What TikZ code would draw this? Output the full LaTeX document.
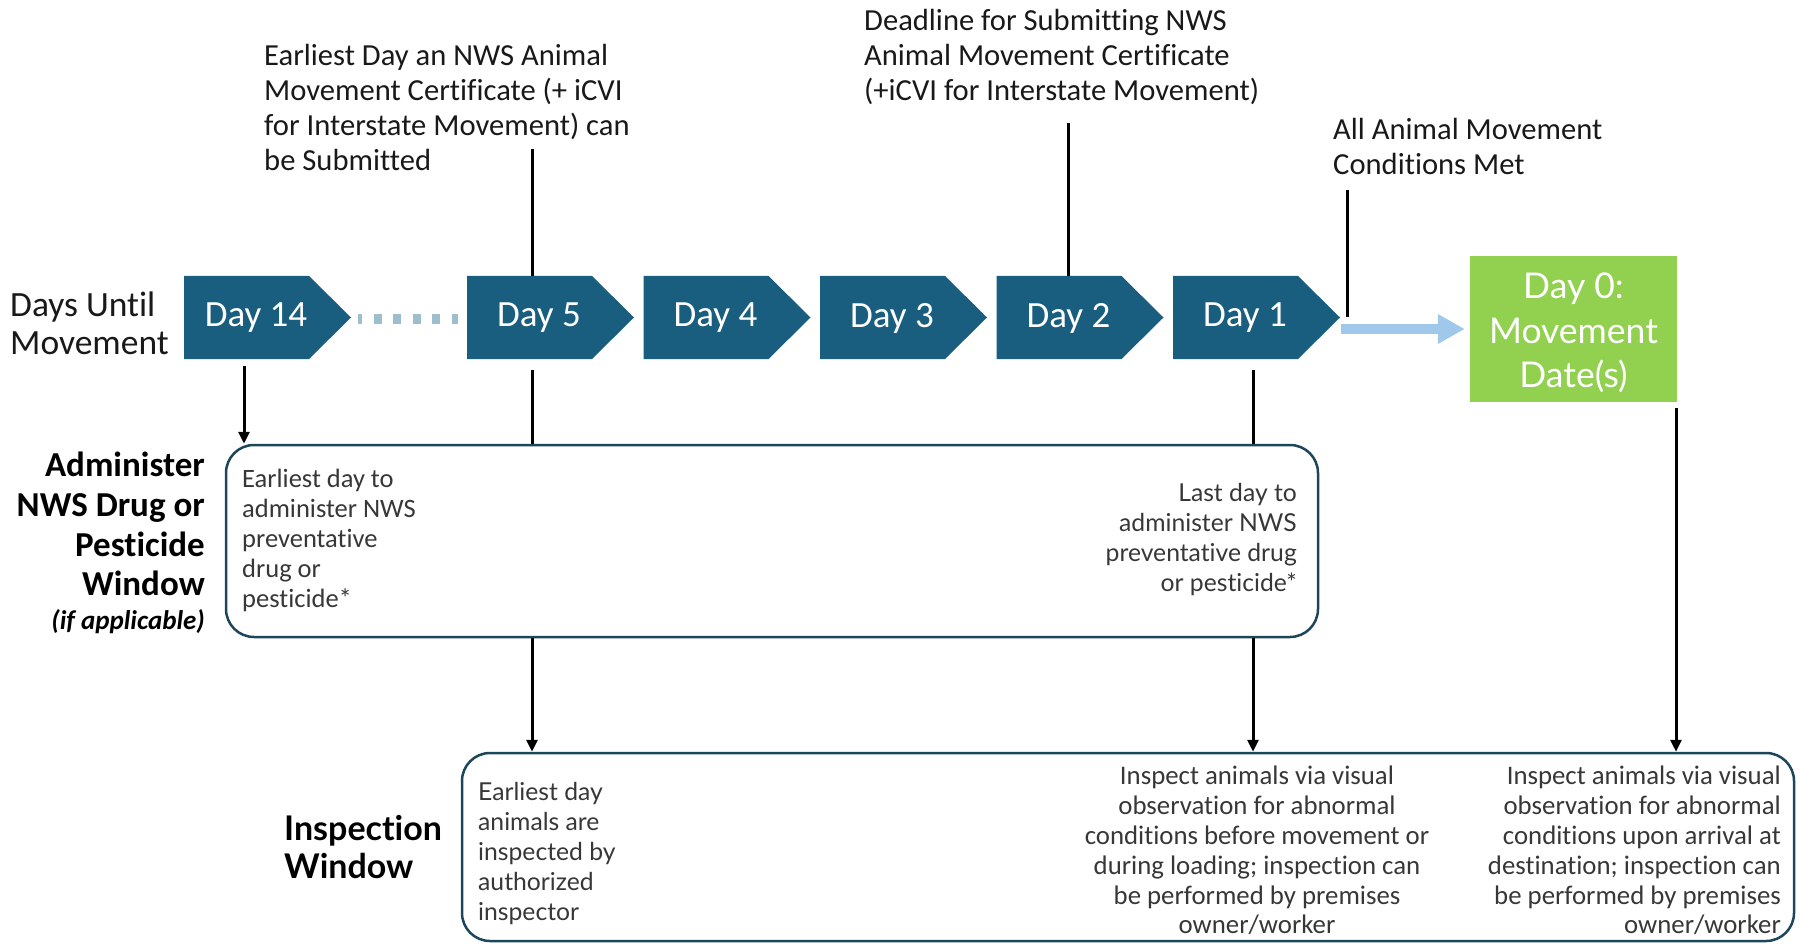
\documentclass[tikz,border=0pt]{standalone}
\usepackage{fontspec}
\setmainfont[Ligatures=NoCommon]{Lato}
\newfontfamily\nar[Ligatures=NoCommon]{Carlito}
\usetikzlibrary{arrows.meta,calc}
\definecolor{chevblue}{RGB}{25,94,126}
\definecolor{dotblue}{RGB}{157,190,205}
\definecolor{arrblue}{RGB}{160,200,235}
\definecolor{daygreen}{RGB}{146,208,80}
\definecolor{boxline}{RGB}{30,70,90}
\definecolor{txt}{RGB}{25,25,25}
\definecolor{btxt}{RGB}{55,55,55}
\tikzset{
  chev/.style={fill=chevblue},
  daytxt/.style={text=white,font=\nar\fontsize{37}{40}\selectfont,inner sep=0pt},
  conn/.style={line width=3pt,black},
  arr/.style={conn,-{Triangle[length=12pt,width=11pt]}},
  winbox/.style={draw=boxline,line width=2.5pt,rounded corners=28pt,inner sep=0pt},
  toplbl/.style={font=\nar\fontsize{30.6}{35}\selectfont,text=txt,align=left,anchor=north west,inner sep=0pt},
  boxtxtN/.style={font=\nar\fontsize{26.8}{29.8}\selectfont,text=btxt,inner sep=0pt},
  boxtxtL/.style={font=\fontsize{24.7}{30}\selectfont,text=btxt,inner sep=0pt},
}
\newcommand\daychev[3]{%
  \fill[chev] (#2,276) -- (#2+125,276) -- (#2+167,317.5) -- (#2+125,359) -- (#2,359) -- cycle;
  \node[daytxt] (#1) at (#2+72,318) {#3};}
\begin{document}
\begin{tikzpicture}[x=1pt,y=-1pt]
\useasboundingbox (0,0) rectangle (1800,944);

% top labels
\node[toplbl] (lblA) at (264,44) {Earliest Day an NWS Animal\\Movement Certificate (+ iCVI\\for Interstate Movement) can\\be Submitted};
\node[toplbl] (lblB) at (864,9) {Deadline for Submitting NWS\\Animal Movement Certificate\\(+iCVI for Interstate Movement)};
\node[toplbl] (lblC) at (1333,118) {All Animal Movement\\Conditions Met};

\node[font=\nar\fontsize{35.5}{38}\selectfont,text=txt,align=left,anchor=north west,inner sep=0pt] (dum) at (10,292) {Days Until\\Movement};

% chevrons
\daychev{d14}{184}{Day 14}
\daychev{d5}{467}{Day 5}
\daychev{d4}{643.5}{Day 4}
\daychev{d3}{820}{Day 3}
\daychev{d2}{996.5}{Day 2}
\daychev{d1}{1173}{Day 1}

\coordinate (dotS) at (358,319);
\coordinate (dotE) at (458,319);
\draw[dotblue,line width=10pt,dash pattern=on 8pt off 11.5pt,dash phase=4pt] (dotS) -- (dotE);

% day 0
\node[fill=daygreen,minimum width=207pt,minimum height=146pt,text=white,font=\fontsize{35.5}{44.5}\selectfont,align=center,inner sep=0pt] (day0) at (1573.5,329) {};
\node[text=white,font=\fontsize{35.5}{44.5}\selectfont,align=center,inner sep=0pt] (day0txt) at (1573.5,333) {Day 0:\\Movement\\Date(s)};
\coordinate (bS) at (1341,329);
\draw[arrblue,line width=10pt,-{Triangle[length=27pt,width=28pt]},shorten >=5pt] (bS) -- (day0.west);

% administer window
\node[font=\nar\bfseries\fontsize{35}{39.7}\selectfont,text=black,align=right,anchor=north east,inner sep=0pt] (admlbl) at (205,452) {Administer\\NWS Drug or\\Pesticide\\Window};
\node[font=\nar\bfseries\itshape\fontsize{27}{30}\selectfont,text=black,anchor=north east,inner sep=0pt] (ifapp) at (205,609) {(if applicable)};
\node[winbox,minimum width=1092pt,minimum height=192pt] (admbox) at (772,541) {};
\node[font=\nar\fontsize{26.5}{30}\selectfont,text=btxt,align=left,anchor=north west,inner sep=0pt] (admL) at (242,469) {Earliest day to\\administer NWS\\preventative\\drug or\\pesticide*};
\node[boxtxtL,align=right,anchor=north east] (admR) at (1297,483) {Last day to\\administer NWS\\preventative drug\\or pesticide*};

% inspection window
\node[font=\bfseries\fontsize{34}{38.5}\selectfont,text=black,align=left,anchor=north west,inner sep=0pt] (insplbl) at (284,815) {Inspection\\Window};
\node[winbox,minimum width=1332pt,minimum height=188pt] (inspbox) at (1128,847) {};
\node[boxtxtL,align=left,anchor=north west] (inspL) at (478,782) {Earliest day\\animals are\\inspected by\\authorized\\inspector};
\node[boxtxtN,align=center,anchor=north] (inspM) at (1257,766) {Inspect animals via visual\\observation for abnormal\\conditions before movement or\\during loading; inspection can\\be performed by premises\\owner/worker};
\node[boxtxtN,align=right,anchor=north east] (inspR) at (1781,766) {Inspect animals via visual\\observation for abnormal\\conditions upon arrival at\\destination; inspection can\\be performed by premises\\owner/worker};

% connectors
\coordinate (aEnd) at (532,149); \coordinate (d5T) at (532,276);
\draw[conn] (aEnd) -- (d5T);
\coordinate (bEnd) at (1068,123); \coordinate (d2T) at (1068,276);
\draw[conn] (bEnd) -- (d2T);
\coordinate (cEnd) at (1347,190); \coordinate (cLow) at (1347,317);
\draw[conn] (cEnd) -- (cLow);
\coordinate (d14B) at (244,366);
\draw[arr] (d14B) -- (d14B |- admbox.north);
\coordinate (d5B) at (532,370);
\draw[conn] (d5B) -- (d5B |- admbox.north);
\coordinate (d1B) at (1253,370);
\draw[conn] (d1B) -- (d1B |- admbox.north);
\draw[arr] (d5B |- admbox.south) -- (d5B |- inspbox.north);
\draw[arr] (d1B |- admbox.south) -- (d1B |- inspbox.north);
\coordinate (d0B) at (1676,408);
\draw[arr] (d0B) -- (d0B |- inspbox.north);
\end{tikzpicture}
\end{document}
